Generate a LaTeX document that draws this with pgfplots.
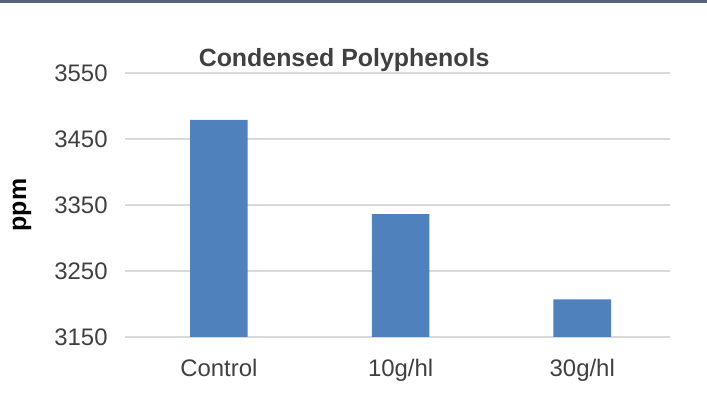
\documentclass[border=0pt]{standalone}
\usepackage{pgfplots}
\pgfplotsset{compat=1.18}
\usepackage{fontspec}
\setmainfont{Liberation Sans}
\definecolor{barblue}{HTML}{4F81BD}
\definecolor{gridgray}{HTML}{D9D9D9}
\definecolor{txtgray}{HTML}{404040}
\definecolor{topbar}{HTML}{56647C}
\begin{document}
\begin{tikzpicture}
\useasboundingbox (-62.5bp,-33bp) rectangle (291bp,168.5bp);
\fill[white] (-62.5bp,-33bp) rectangle (291bp,168.5bp);
\fill[topbar] (-62.5bp,167bp) rectangle (291bp,168.5bp);
\begin{axis}[
  at={(0,0)}, anchor=south west,
  scale only axis,
  width=272.5bp, height=132bp,
  ybar, bar width=28.8bp,
  xmin=-0.517, xmax=2.483,
  ymin=3150, ymax=3550,
  ytick={3150,3250,3350,3450,3550},
  xtick=data,
  xticklabels={Control,10g/hl,30g/hl},
  axis x line*=bottom, axis y line*=left,
  axis line style={draw=none},
  major tick length=0pt,
  ymajorgrids,
  grid style={gridgray, line width=0.8bp},
  /pgf/number format/assume math mode=true,
  /pgf/number format/1000 sep={},
  yticklabel style={anchor=east, inner sep=0pt, xshift=-8.5bp, font=\fontsize{12}{14}\selectfont, text=txtgray},
  xticklabel style={anchor=base, inner sep=0pt, yshift=-19.5bp, font=\fontsize{12}{14}\selectfont, text=txtgray},
  every axis title/.style={at={(rel axis cs:0.402,1)}, anchor=base, inner sep=0pt, yshift=3.5bp, font=\fontsize{12.5}{15}\selectfont\bfseries, text=txtgray},
  title={Condensed Polyphenols},
  every axis y label/.style={at={(rel axis cs:0,0.5)}, rotate=90, anchor=center, inner sep=0pt, yshift=51.5bp, font=\fontsize{12.5}{15}\selectfont\bfseries, text=black},
  ylabel={ppm},
]
\addplot[fill=barblue, draw=none] coordinates {(0,3479) (1,3336) (2,3207)};
\end{axis}
\end{tikzpicture}
\end{document}
